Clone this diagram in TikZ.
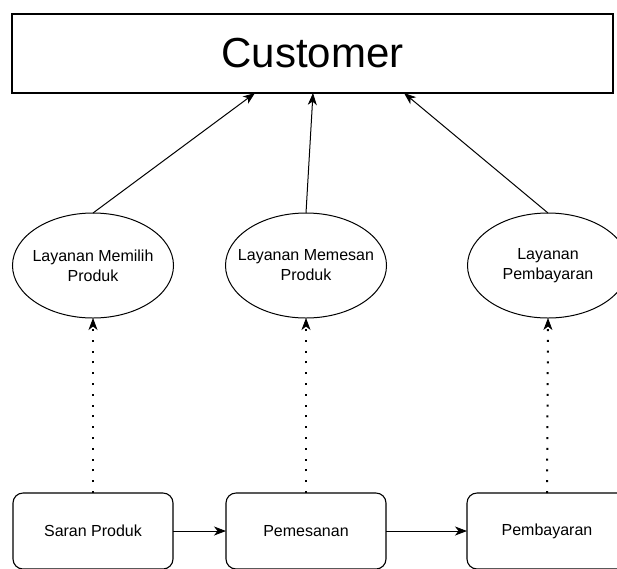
\documentclass[tikz,border=0pt]{standalone}
\usepackage{fontspec}
\setmainfont{Liberation Sans}
\usetikzlibrary{arrows.meta,shapes.geometric}

\tikzset{
  titlebox/.style={draw, line width=1.2pt, rectangle, inner sep=0pt, outer sep=0pt,
    minimum width=601pt, minimum height=79pt, font=\fontsize{42}{48}\selectfont},
  % the ellipse keeps its own size; its two-line caption sits on top as a label
  service/.style={draw, line width=1pt, ellipse, inner sep=0pt, outer sep=0pt,
    minimum width=161pt, minimum height=105pt,
    label={[align=center, inner sep=0pt, font=\fontsize{16}{20}\selectfont]center:#1}},
  process/.style={draw, line width=1.1pt, rectangle, rounded corners=10pt,
    inner sep=0pt, outer sep=0pt, minimum width=160pt, minimum height=76pt,
    font=\fontsize{16}{20}\selectfont},
  tip/.style={-{Stealth[length=12pt,width=9pt,inset=3.5pt,line width=0.8pt]}},
  uses/.style={line width=1pt, tip},
  realizes/.style={line width=2pt, line cap=butt, dash pattern=on 2pt off 8.8pt, tip},
  flow/.style={line width=1pt, tip},
}

\begin{document}
\begin{tikzpicture}[x=1pt, y=-1pt]
  \useasboundingbox (0,0) rectangle (617,568);

  % actor
  \node[titlebox] (customer) at (312.5,53.5) {Customer};

  % services offered to the customer
  \node[service={Layanan Memilih\\Produk}] (s1) at (93,265.5) {};
  \node[service={Layanan Memesan\\Produk}] (s2) at (306,265.5) {};
  \node[service={Layanan\\Pembayaran}] (s3) at (548,265.5) {};

  % business processes
  \node[process] (p1) at (93,531)  {Saran Produk};
  \node[process] (p2) at (306,531) {Pemesanan};
  \node[process] (p3) at (547,531) {Pembayaran};

  % attachment points on the customer box
  \coordinate (c1) at (255,93);
  \coordinate (c2) at (313,93);
  \coordinate (c3) at (404,93);

  \draw[uses] (s1.north) -- (c1);
  \draw[uses] (s2.north) -- (c2);
  \draw[uses] (s3.north) -- (c3);

  \draw[realizes] (p1.north) -- (s1.south);
  \draw[realizes] (p2.north) -- (s2.south);
  \draw[realizes] (p3.north) -- (s3.south);

  \draw[flow] (p1.east) -- (p2.west);
  \draw[flow] (p2.east) -- (p3.west);
\end{tikzpicture}
\end{document}
